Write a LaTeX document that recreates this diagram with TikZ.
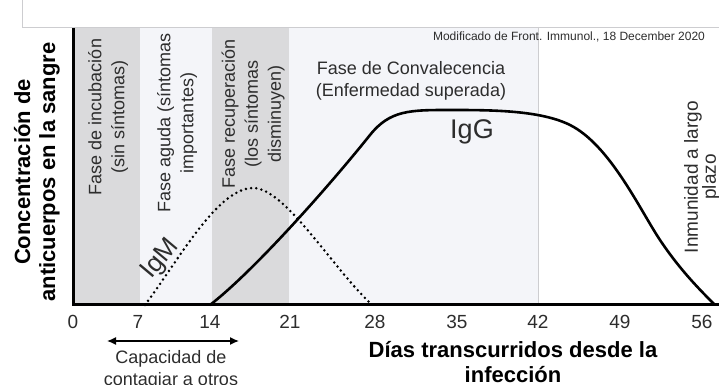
\documentclass[tikz,border=0pt]{standalone}
\usepackage{fontspec}
\setmainfont{Liberation Sans}
\usepackage{xcolor}
\usepackage{tikz}
\usetikzlibrary{arrows.meta}

\definecolor{bandgray}{RGB}{218,218,220}
\definecolor{bandlight}{RGB}{244,245,249}
\definecolor{framegray}{RGB}{205,205,208}
\definecolor{textgray}{RGB}{45,45,45}

\begin{document}
\begin{tikzpicture}[x=0.5pt, y=-0.5pt,
  phase/.style={rotate=90, align=center, text=textgray, font=\fontsize{9}{11.5}\selectfont},
  tick/.style={text=textgray, font=\fontsize{9.5}{11}\selectfont},
  boldlab/.style={align=center, font=\fontsize{11}{12.5}\selectfont\bfseries},
  curve/.style={line width=1.3pt, line cap=round}]
\useasboundingbox (0,0) rectangle (719,385);
\coordinate (o) at (73,305);
\coordinate (ytop) at (73,28);
\coordinate (xend) at (719,305);
\coordinate (mstart) at (145,305);
\coordinate (mpeak) at (253,188);
\coordinate (mend) at (372,305);
\coordinate (gstart) at (210,305);
\coordinate (g1) at (370,135);
\coordinate (g2) at (450,110);
\coordinate (g3) at (570,125);
\coordinate (g4) at (660,240);
\coordinate (gend) at (715,305);
\coordinate (cleft) at (107,341);
\coordinate (cright) at (239,341);
\fill [bandgray] (73,28) rectangle (140,305);
\fill [bandlight] (140,28) rectangle (212,305);
\fill [bandgray] (212,28) rectangle (289,305);
\fill [bandlight] (289,28) rectangle (538,305);
\draw [framegray, line width=0.4pt] (22,0) -- (22,27) -- (719,27);
\draw [framegray, line width=0.4pt] (538,27) -- (538,305);
\node [phase] (incub) at (108,117) {Fase de incubación\\(sin síntomas)};
\node [phase] (aguda) at (177,123) {Fase aguda (síntomas\\importantes)};
\node [phase] (recup) at (253,114) {Fase recuperación\\(los síntomas\\disminuyen)};
\node [phase, font=\fontsize{9.5}{9}\selectfont] (inmun) at (702,177) {Inmunidad a largo\\plazo};
\node [align=center, text=textgray, font=\fontsize{9}{11}\selectfont] (conval) at (411,81) {Fase de Convalecencia\\(Enfermedad superada)};
\node [text=textgray, font=\fontsize{6}{7}\selectfont] (fuente) at (569,37) {Modificado de Front. Immunol., 18 December 2020};
\draw [curve, dash pattern=on 0pt off 2.6pt, line width=1.4pt] (mstart) .. controls (180,258) and (218,188) .. (mpeak) .. controls (285,188) and (330,265) .. (mend);
\draw [curve] (gstart) .. controls (255,270) and (330,185) .. (g1) .. controls (390,110) and (410,110) .. (g2) .. controls (490,110) and (540,110) .. (g3) .. controls (610,145) and (640,210) .. (g4) .. controls (680,270) and (700,290) .. (gend);
\node [text=textgray, font=\fontsize{13.5}{14}\selectfont] (igg) at (472,132) {IgG};
\node [rotate=50, text=textgray, font=\fontsize{13}{14}\selectfont] (igm) at (161,259) {IgM};
\draw [line width=1.5pt] (ytop) -- (o) -- (xend);
\node [boldlab, rotate=90] (ylabel) at (37,172) {Concentración de\\anticuerpos en la sangre};
\node [tick] (t0) at (73,322) {0};
\node [tick] (t7) at (138,322) {7};
\node [tick] (t14) at (210,322) {14};
\node [tick] (t21) at (290,322) {21};
\node [tick] (t28) at (375,322) {28};
\node [tick] (t35) at (457,322) {35};
\node [tick] (t42) at (538,322) {42};
\node [tick] (t49) at (620,322) {49};
\node [tick] (t56) at (702,322) {56};
\draw [{Latex[length=4.5pt, width=4pt]}-{Latex[length=4.5pt, width=4pt]}, line width=0.7pt] (cleft) -- (cright);
\node [align=center, text=textgray, font=\fontsize{9}{11}\selectfont] (contag) at (171,370) {Capacidad de\\contagiar a otros};
\node [boldlab] (dias) at (513,362) {Días transcurridos desde la\\infección};
\end{tikzpicture}
\end{document}
